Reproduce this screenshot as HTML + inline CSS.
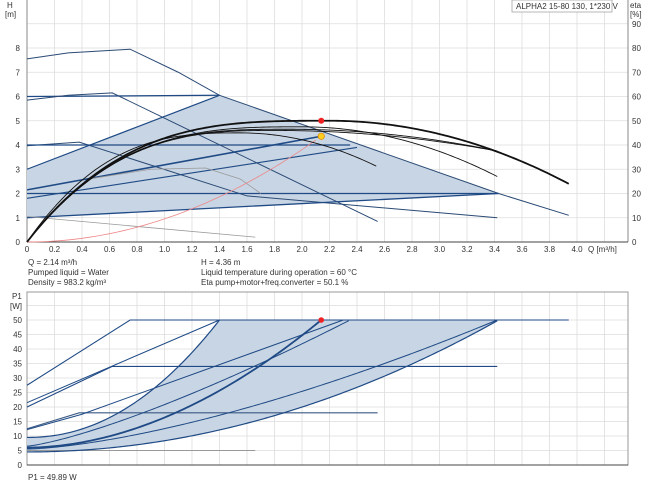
<!DOCTYPE html>
<html><head><meta charset="utf-8"><style>
body{margin:0;background:#fff;}
svg{display:block;font-family:"Liberation Sans",sans-serif;}
</style></head><body>
<svg id="s" width="650" height="487" xmlns="http://www.w3.org/2000/svg"></svg>
<script>
const s=document.getElementById('s');
let h='';
const X=q=>27+137.5*q, Y=v=>242-24.25*v, P=p=>465-2.9*p;
const line=(x1,y1,x2,y2,c,w)=>h+=`<line x1="${x1}" y1="${y1}" x2="${x2}" y2="${y2}" stroke="${c}" stroke-width="${w}"/>`;
const txt=(x,y,t,a,sz)=>h+=`<text x="${x}" y="${y}" font-size="${sz||8}" fill="#333" text-anchor="${a||'start'}">${t}</text>`;
for(let i=1;i<=22;i++){let x=X(i*0.2);if(x<628)line(x,0,x,242,'#ddd',0.8);}
for(let i=1;i<=9;i++)line(27,Y(i),628,Y(i),'#ddd',0.8);
for(let i=1;i<=22;i++){let x=X(i*0.2);if(x<628)line(x,292,x,465,'#ddd',0.8);}
for(let i=1;i<=11;i++)line(27,P(i*5),628,P(i*5),'#ddd',0.8);
line(27,0,27,242,'#888',1);line(628,0,628,242,'#888',1);line(27,242,628,242,'#444',1);
h+=`<rect x="27" y="292" width="601" height="173" fill="none" stroke="#999" stroke-width="1"/>`;
line(27,465,628,465,'#444',1);
txt(7,8,'H','start');txt(5,17,'[m]');
for(let i=0;i<=8;i++)txt(20,Y(i)+3,i,'end');
for(let i=0;i<=9;i++)txt(632,Y(i)+3,i*10);
txt(630,8,'eta');txt(630,17,'[%]');
for(let i=0;i<=20;i++)txt(X(i*0.2),252,i==0?'0':(i*0.2).toFixed(1),'middle');
txt(588,252,'Q [m³/h]');
h+=`<rect x="512" y="0" width="100" height="12" fill="#fff" stroke="#999" stroke-width="0.7"/>`;
txt(516,9,'ALPHA2 15-80 130, 1*230 V');
txt(28,265,'Q = 2.14 m³/h');txt(28,275,'Pumped liquid = Water');txt(28,285,'Density = 983.2 kg/m³');
txt(201,265,'H = 4.36 m');txt(201,275,'Liquid temperature during operation = 60 °C');txt(201,285,'Eta pump+motor+freq.converter = 50.1 %');
txt(12,299,'P1');txt(10,309,'[W]');
for(let i=0;i<=10;i++)txt(22,P(i*5)+3,i*5,'end');
txt(28,480,'P1 = 49.89 W');
const B='#1f4a85';
h+=`<polygon points="${X(0)},${Y(3)} ${X(1.4)},${Y(6.05)} ${X(3.43)},${Y(2)} ${X(0)},${Y(1)}" fill="#c8d5e4"/>`;
const L=(a,c,w)=>{h+=`<polyline fill="none" stroke="${c||B}" stroke-width="${w||1}" points="${a.map(p=>X(p[0])+','+Y(p[1])).join(' ')}"/>`;};
L([[0,7.55],[0.3,7.8],[0.75,7.95],[1.1,7.0],[1.4,6.05],[3.43,2.0],[3.94,1.1]],'#2a4a75');
L([[0,6],[1.4,6.05]],B,1.3);
L([[0,5.85],[0.3,6.05],[0.62,6.15],[2.55,0.85]],'#2a4a75');
L([[0,3.97],[0.38,4.12],[1.6,1.9],[3.42,1.0]],'#2a4a75');
L([[0,4],[2.35,4]],B,1.2);
L([[0,3],[1.4,6.05]],B,1.2);
L([[0,1],[3.43,2]],B,1.3);
L([[0,2],[3.43,2]],B,1.2);
L([[0,2.15],[2.14,4.36]],B,1.6);
L([[0,1.8],[2.4,3.9]],B,1.1);
L([[0,1.05],[1.66,0.2]],'#999',0.8);
L([[0.45,2.6],[0.9,3.0],[1.3,3.05],[1.55,2.6],[1.7,2.0]],'#999',0.8);
let sc=[];for(let q=0;q<=2.14;q+=0.05)sc.push([q,0.952*q*q]);L(sc,'#e88',0.8);
function bc(qp,hp,qe,he,e,w){let a=[];for(let q=0;q<=qe+1e-6;q+=0.02){let v;if(q<qp)v=hp*(1-Math.pow(1-q/qp,e));else v=hp-(hp-he)*Math.pow((q-qp)/(qe-qp),2);a.push([q,v]);}L(a,'#111',w);}
bc(1.55,4.5,2.55,3.1,2.8,0.9);
bc(1.8,4.6,3.42,3.75,2.8,0.9);
bc(2.0,4.75,3.42,2.7,3,0.9);
bc(1.9,4.65,3.42,3.75,3,0.9);
bc(2.2,5.0,3.94,2.4,3.2,1.8);
h+=`<circle cx="${X(2.14)}" cy="${Y(5)}" r="3" fill="#e22"/>`;
h+=`<circle cx="${X(2.14)}" cy="${Y(4.36)}" r="3.2" fill="#fc2" stroke="#d80" stroke-width="0.7"/>`;
const M=(a,c,w)=>{h+=`<polyline fill="none" stroke="${c||B}" stroke-width="${w||1}" points="${a.map(p=>X(p[0])+','+P(p[1])).join(' ')}"/>`;};
function cur(p0,q1,e){let a=[];for(let q=0;q<=q1+1e-6;q+=0.02)a.push([q,p0+(50-p0)*Math.pow(q/q1,e)]);return a;}
let up=cur(9.5,1.4,2.1), lo=cur(4.5,3.43,2);
h+=`<polygon points="${up.map(p=>X(p[0])+','+P(p[1])).join(' ')} ${X(3.43)},${P(50)} ${lo.slice().reverse().map(p=>X(p[0])+','+P(p[1])).join(' ')}" fill="#c8d5e4"/>`;
M([[0,27.5],[0.75,50],[3.94,50]],B,1.1);
M([[0,21.5],[1.4,50]],B,1);
M([[0,20],[0.62,34],[3.42,34]],B,1.1);
M([[0,12.5],[0.38,18],[2.55,18]],'#3a5a85',1.1);
M([[0,12.2],[0.4,17.5],[2.3,50]],B,1);
M([[0,5],[1.66,5]],'#999',0.9);
M(up,B,1.2);
M(cur(6,2.14,1.9),B,1.8);
M(cur(6.5,2.35,1.3),B,1);
M(cur(5.5,3.42,1.5),B,1);
M(lo,B,1.2);
h+=`<circle cx="${X(2.14)}" cy="${P(50)}" r="2.8" fill="#e22"/>`;
s.innerHTML=h;
</script>
</body></html>
